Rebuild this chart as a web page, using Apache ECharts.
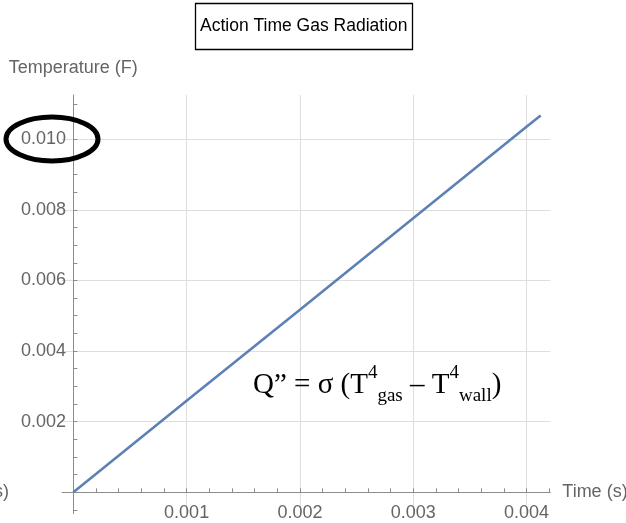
<!DOCTYPE html>
<html>
<head>
<meta charset="utf-8">
<script src="https://cdn.jsdelivr.net/npm/echarts@6/dist/echarts.min.js"></script>
<style>
html,body{margin:0;padding:0;background:#ffffff;}
#chart{width:626px;height:523px;}
</style>
</head>
<body>
<div id="chart"></div>
<script>
// ---- data ----
const timeValues = [0, 0.001, 0.002, 0.003, 0.004, 0.004125];
const temperatureValues = [0, 0.00259, 0.00517, 0.00776, 0.01035, 0.01067];

// ---- tick labels ----
const xTickLabels = [0.001, 0.002, 0.003, 0.004];
const yTickLabels = [0.002, 0.004, 0.006, 0.008, 0.010];
const xMinorTicks = [0.0002, 0.0004, 0.0006, 0.0008, 0.001, 0.0012, 0.0014, 0.0016, 0.0018, 0.002,
                     0.0022, 0.0024, 0.0026, 0.0028, 0.003, 0.0032, 0.0034, 0.0036, 0.0038, 0.004, 0.0042];
const yMinorTicks = [-0.0005, 0.0005, 0.001, 0.0015, 0.002, 0.0025, 0.003, 0.0035, 0.004, 0.0045, 0.005,
                     0.0055, 0.006, 0.0065, 0.007, 0.0075, 0.008, 0.0085, 0.009, 0.0095, 0.010, 0.0105, 0.011];

const chartTitle = 'Action Time Gas Radiation';
const xName = 'Time (s)';
const yName = 'Temperature (F)';

const SANS = '"Liberation Sans Narrow", "Arial Narrow", "Liberation Sans", Arial, sans-serif';
const SERIF = '"Liberation Serif", "Times New Roman", serif';
const AXIS_COLOR = '#8c8c8c';
const LABEL_COLOR = '#656565';
const GRID_COLOR = '#dedede';

const seriesData = timeValues.map((t, i) => [t, temperatureValues[i]]);
const fmt = v => Number(v).toFixed(3);

const chart = echarts.init(document.getElementById('chart'), null, {renderer: 'canvas'});
chart.setOption({
  animation: false,
  backgroundColor: '#ffffff',
  title: {
    text: chartTitle,
    left: 195,
    top: 3,
    padding: [12, 5, 12, 5],
    borderColor: '#000000',
    borderWidth: 1.3,
    textStyle: {color: '#000000', fontFamily: SANS, fontSize: 17.5, fontWeight: 'normal', lineHeight: 23}
  },
  grid: {left: 62, right: 75.7, top: 95, bottom: 9.5, containLabel: false, outerBoundsMode: 'none'},
  xAxis: [
    {
      type: 'value', min: -0.0001, max: 0.00421,
      name: xName, nameLocation: 'end', nameGap: 12,
      nameTextStyle: {color: LABEL_COLOR, fontFamily: SANS, fontSize: 18, verticalAlign: 'middle'},
      axisLine: {show: true, onZero: true, lineStyle: {color: AXIS_COLOR, width: 1}},
      axisTick: {show: true, inside: true, length: 4, customValues: xMinorTicks, lineStyle: {color: AXIS_COLOR, width: 1}},
      axisLabel: {customValues: xTickLabels, formatter: fmt, margin: -9, lineHeight: 18, color: LABEL_COLOR, fontFamily: SANS, fontSize: 18},
      splitLine: {show: false}
    },
    {
      type: 'value', min: -0.0001, max: 0.00421, position: 'top',
      axisLine: {show: false},
      axisTick: {show: false, customValues: xTickLabels},
      axisLabel: {show: false},
      splitLine: {show: true, lineStyle: {color: GRID_COLOR, width: 1}}
    }
  ],
  yAxis: [
    {
      type: 'value', min: -0.0006, max: 0.01125,
      name: yName, nameLocation: 'end', nameGap: 18,
      nameTextStyle: {color: LABEL_COLOR, fontFamily: SANS, fontSize: 18, align: 'center'},
      axisLine: {show: true, onZero: true, lineStyle: {color: AXIS_COLOR, width: 1}},
      axisTick: {show: true, inside: true, length: 4, customValues: yMinorTicks, lineStyle: {color: AXIS_COLOR, width: 1}},
      axisLabel: {customValues: yTickLabels, formatter: fmt, margin: -4, color: LABEL_COLOR, fontFamily: SANS, fontSize: 18},
      splitLine: {show: false}
    },
    {
      type: 'value', min: -0.0006, max: 0.01125, position: 'right',
      axisLine: {show: false},
      axisTick: {show: false, customValues: yTickLabels},
      axisLabel: {show: false},
      splitLine: {show: true, lineStyle: {color: GRID_COLOR, width: 1}}
    }
  ],
  series: [{
    type: 'line',
    xAxisIndex: 0, yAxisIndex: 0,
    data: seriesData,
    showSymbol: false,
    symbol: 'none',
    clip: false,
    lineStyle: {color: '#5e81b5', width: 2.6},
    z: 5
  }],
  graphic: [
    {
      type: 'ellipse',
      shape: {cx: 52, cy: 139, rx: 46, ry: 22},
      style: {fill: 'none', stroke: '#000000', lineWidth: 5},
      z: 10
    },
    {
      type: 'text',
      x: 253, y: 364,
      style: {
        text: '{m|Q\u201D = \u03C3 (T}{sup|4}{sub|gas}{m| \u2013 T}{sup|4}{sub|wall}{m|)}',
        textVerticalAlign: 'top',
        rich: {
          m: {fontFamily: SERIF, fontSize: 29, lineHeight: 42, fill: '#000000'},
          sup: {fontFamily: SERIF, fontSize: 19, lineHeight: 19, verticalAlign: 'top', fill: '#000000'},
          sub: {fontFamily: SERIF, fontSize: 19, lineHeight: 28, verticalAlign: 'bottom', fill: '#000000'}
        }
      },
      z: 10
    },
    {
      type: 'text',
      x: 9, y: 492,
      style: {text: '(s)', fill: LABEL_COLOR, font: '18px ' + SANS, textAlign: 'right', textVerticalAlign: 'middle'},
      z: 10
    }
  ]
});
</script>
</body>
</html>
